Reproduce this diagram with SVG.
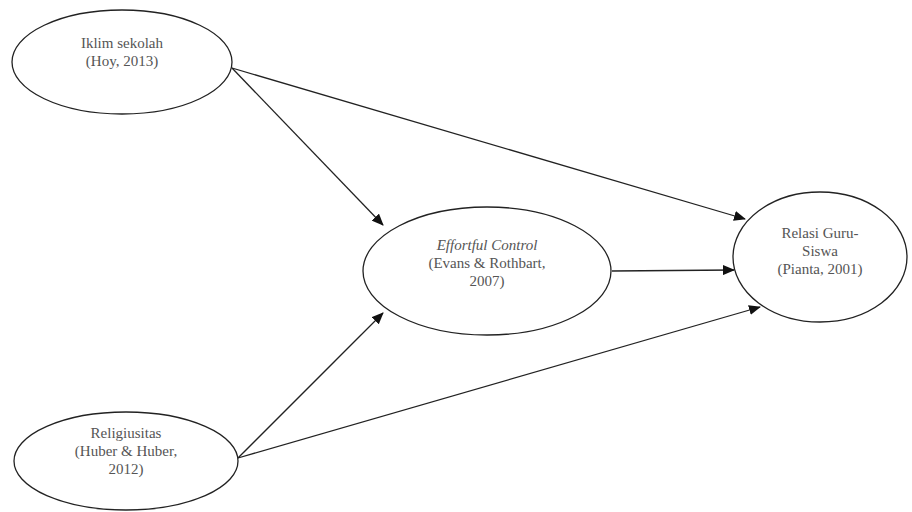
<svg xmlns="http://www.w3.org/2000/svg" width="912" height="512" viewBox="0 0 912 512">
<defs>
<style>
.n{fill:#fff;stroke:#222;stroke-width:1.3}
.t{font-family:'Liberation Serif','Times New Roman','DejaVu Serif',serif;font-size:15px;fill:#555;text-anchor:middle}
.c line{stroke:#222;stroke-width:1.3;marker-end:url(#ah)}
</style>
<marker id="ah" markerWidth="12" markerHeight="10" refX="11" refY="5" orient="auto" markerUnits="userSpaceOnUse">
<path d="M0,0 L12,5 L0,10 Z" fill="#111"/>
</marker>
</defs>
<rect width="912" height="512" fill="#fff"/>
<g class="c" id="connectors">
<line x1="232" y1="68" x2="383" y2="225"/>
<line x1="232" y1="68" x2="745" y2="219"/>
<line x1="612" y1="271" x2="734" y2="270"/>
<line x1="238" y1="458" x2="383" y2="313"/>
<line x1="238" y1="458" x2="760" y2="307"/>
</g>
<g id="iklim">
<ellipse class="n" cx="122" cy="62" rx="110" ry="52"/>
<text class="t" x="122" y="48">Iklim sekolah</text>
<text class="t" x="122" y="66">(Hoy, 2013)</text>
</g>
<g id="effortful">
<ellipse class="n" cx="487" cy="271" rx="124" ry="64"/>
<text class="t" x="487" y="250" font-style="italic">Effortful Control</text>
<text class="t" x="487" y="268">(Evans &amp; Rothbart,</text>
<text class="t" x="487" y="286">2007)</text>
</g>
<g id="relasi">
<ellipse class="n" cx="820" cy="257" rx="87" ry="65"/>
<text class="t" x="820" y="238">Relasi Guru-</text>
<text class="t" x="820" y="256">Siswa</text>
<text class="t" x="820" y="274">(Pianta, 2001)</text>
</g>
<g id="religiusitas">
<ellipse class="n" cx="126" cy="461" rx="112" ry="49"/>
<text class="t" x="126" y="438">Religiusitas</text>
<text class="t" x="126" y="456">(Huber &amp; Huber,</text>
<text class="t" x="126" y="474">2012)</text>
</g>
</svg>
